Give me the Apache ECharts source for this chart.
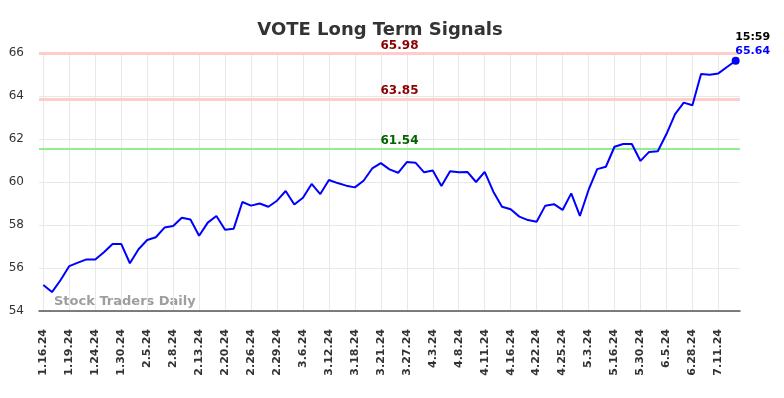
<!DOCTYPE html>
<html>
<head>
<meta charset="utf-8">
<script src="https://cdn.jsdelivr.net/npm/echarts@6/dist/echarts.min.js"></script>
<style>
html,body{margin:0;padding:0;background:#fff;}
#chart{width:784px;height:398px;}
</style>
</head>
<body>
<div id="chart"></div>
<script>
var dates = ["1.16.24","1.17.24","1.18.24","1.19.24","1.22.24","1.23.24","1.24.24","1.25.24","1.29.24","1.30.24",
"1.31.24","2.2.24","2.5.24","2.6.24","2.7.24","2.8.24","2.9.24","2.12.24","2.13.24","2.14.24",
"2.16.24","2.20.24","2.21.24","2.23.24","2.26.24","2.27.24","2.28.24","2.29.24","3.4.24","3.5.24",
"3.6.24","3.7.24","3.11.24","3.12.24","3.14.24","3.15.24","3.18.24","3.19.24","3.20.24","3.21.24",
"3.22.24","3.26.24","3.27.24","3.28.24","4.2.24","4.3.24","4.4.24","4.5.24","4.8.24","4.9.24",
"4.10.24","4.11.24","4.12.24","4.15.24","4.16.24","4.18.24","4.19.24","4.22.24","4.23.24","4.24.24",
"4.25.24","4.30.24","5.2.24","5.3.24","5.8.24","5.13.24","5.16.24","5.21.24","5.24.24","5.30.24",
"6.3.24","6.4.24","6.5.24","6.12.24","6.20.24","6.28.24","7.2.24","7.8.24","7.11.24","7.12.24","7.15.24"];
var prices = [55.21,54.88,55.44,56.09,56.25,56.40,56.40,56.73,57.12,57.12,
56.22,56.87,57.30,57.43,57.88,57.95,58.34,58.26,57.50,58.11,
58.42,57.78,57.83,59.07,58.90,59.00,58.85,59.13,59.58,58.95,
59.27,59.91,59.44,60.09,59.95,59.83,59.75,60.06,60.63,60.88,
60.59,60.43,60.93,60.90,60.45,60.53,59.81,60.50,60.45,60.47,
60.00,60.47,59.55,58.85,58.73,58.39,58.23,58.15,58.90,58.97,
58.70,59.47,58.42,59.63,60.60,60.71,61.64,61.77,61.77,60.98,
61.40,61.43,62.23,63.16,63.69,63.57,65.02,64.99,65.05,65.35,65.64];
var resistanceHigh = 65.98;
var resistanceMid = 63.85;
var support = 61.54;
var lastTime = "15:59";
var yTicks = [54, 56, 58, 60, 62, 64, 66];

var chart = echarts.init(document.getElementById('chart'), null, {renderer: 'canvas'});
var F = 'DejaVu Sans';
var lastIdx = prices.length - 1;

chart.setOption({
  animation: false,
  backgroundColor: '#ffffff',
  title: {
    text: 'VOTE Long Term Signals',
    left: 375, top: 16, textAlign: 'center',
    textStyle: {fontFamily: F, fontSize: 18, fontWeight: 'bold', color: '#333333'}
  },
  grid: {left: 39, right: 44, top: 53, bottom: 87, containLabel: false},
  xAxis: {
    type: 'category',
    data: dates,
    boundaryGap: true,
    axisLine: {show: true, lineStyle: {color: '#555555', width: 1.5}},
    axisTick: {show: false, interval: 2, alignWithLabel: true},
    splitLine: {show: true, interval: 2, alignWithLabel: true, lineStyle: {color: '#e8e8e8', width: 1}},
    axisLabel: {
      interval: 2, rotate: 90, margin: 18,
      fontFamily: F, fontSize: 11, fontWeight: 'bold', color: '#333333'
    }
  },
  yAxis: {
    type: 'value',
    min: yTicks[0], max: yTicks[yTicks.length - 1], interval: 2,
    axisLine: {show: false},
    axisTick: {show: false},
    splitLine: {show: true, lineStyle: {color: '#e8e8e8', width: 1}},
    axisLabel: {margin: 15, fontFamily: F, fontSize: 12, color: '#333333'}
  },
  graphic: [{
    type: 'text', left: 54, top: 295, z: 0,
    style: {text: 'Stock Traders Daily', fontFamily: F, fontSize: 13, fontWeight: 'bold', fill: '#9e9e9e'}
  }],
  series: [{
    type: 'line',
    data: prices,
    showSymbol: false,
    symbol: 'none',
    lineStyle: {color: '#0000ff', width: 2},
    z: 5,
    markLine: {
      silent: true,
      symbol: ['none', 'none'],
      data: [
        {yAxis: resistanceHigh, lineStyle: {color: '#ffcccc', width: 3, type: 'solid'},
         label: {color: '#8b0000'}},
        {yAxis: resistanceMid, lineStyle: {color: '#ffcccc', width: 3, type: 'solid'},
         label: {color: '#8b0000'}},
        {yAxis: support, lineStyle: {color: '#90ee90', width: 2, type: 'solid'},
         label: {color: '#006400'}}
      ],
      label: {
        show: true, position: 'insideMiddleTop', distance: 2, offset: [10, 0],
        fontFamily: F, fontSize: 12, fontWeight: 'bold',
        formatter: function (p) { return p.value.toFixed(2); }
      }
    },
    markPoint: {
      silent: true,
      symbol: 'circle', symbolSize: 8,
      itemStyle: {color: '#0000ff'},
      data: [{coord: [lastIdx, prices[lastIdx]], value: prices[lastIdx]}],
      label: {
        show: true, position: 'top', distance: 5, offset: [17, 6],
        formatter: function (p) { return '{t|' + lastTime + '}\n{v|' + p.value.toFixed(2) + '}'; },
        rich: {
          t: {fontFamily: F, fontSize: 11, fontWeight: 'bold', color: '#000000', lineHeight: 14, align: 'center'},
          v: {fontFamily: F, fontSize: 11, fontWeight: 'bold', color: '#0000ff', lineHeight: 14, align: 'center'}
        }
      }
    }
  }]
});
</script>
</body>
</html>
